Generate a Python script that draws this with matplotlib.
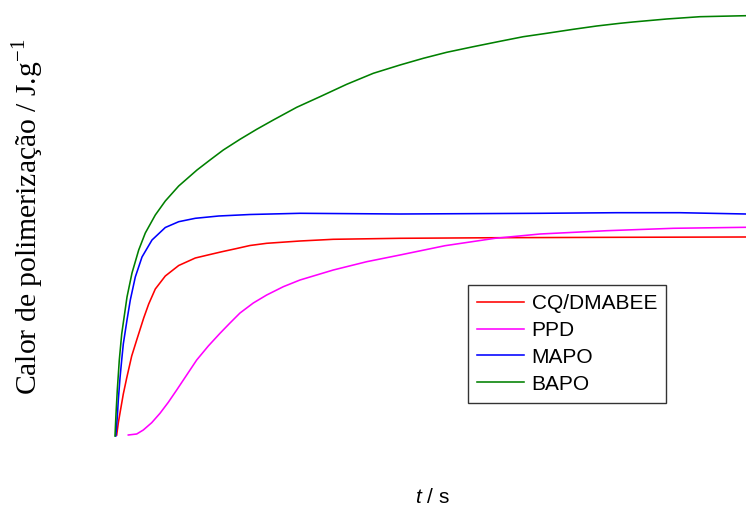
import matplotlib
matplotlib.use("Agg")
import matplotlib.pyplot as plt

plt.rcParams['mathtext.fontset'] = 'custom'
plt.rcParams['mathtext.rm'] = 'Liberation Serif'
plt.rcParams['mathtext.it'] = 'Liberation Sans:italic'

# time (s) and heat (J/g)
t_cq = [1.7, 3.3, 5, 8.3, 11.7, 16.7, 21.7, 28.7, 33.7, 40.3, 50.3, 63.7, 80.3,
        95, 107, 121.7, 135, 151.7, 185, 218.3, 285, 385, 505, 631]
h_cq = [1, 13, 23, 42, 58, 80, 96, 118, 132, 147, 160, 170.5, 178,
        181.5, 184.3, 187.5, 190.5, 192.7, 195, 196.7, 197.7, 198.3, 198.7, 199]

t_ppd = [13.3, 21.7, 28.3, 36.7, 45, 53.3, 61.7, 71.7, 81.7, 93.3, 105, 115, 125,
         138.3, 151.7, 168.3, 185, 218.3, 251.7, 285, 330, 380, 425, 491.7, 558.3, 631]
h_ppd = [1, 2, 6, 13.3, 22.7, 33.7, 46, 61, 76, 90, 102.7, 113, 123,
         133, 141, 149.3, 156, 166, 174.3, 181, 190.3, 197.7, 202, 205.3, 207.7, 208.7]

t_mapo = [0.8, 2.3, 3.3, 5, 6.7, 8.3, 12, 15.3, 20.3, 27, 37, 50.3,
          63.7, 80.3, 103.7, 135, 185, 285, 385, 425, 502, 565, 631]
h_mapo = [0, 19, 36, 58, 76, 92, 116, 136, 159, 179, 196, 208.5,
          214.3, 217.7, 220, 221.5, 222.7, 222, 222.5, 222.7, 223.3, 223.3, 222]

t_bapo = [0, 1, 2.3, 4.3, 6.7, 8.7, 12, 17, 23.7, 30.3, 40.3, 50.3, 63.7, 82,
          95, 108.3, 125, 141.7, 158.3, 181.7, 205, 231.7, 258.3, 285, 308.3, 331.7,
          358.3, 385, 408.3, 431.7, 458.3, 481.7, 505, 518, 551.7, 585, 631]
h_bapo = [0, 22, 46, 76, 102, 116, 139, 163, 186, 203, 221, 235, 250, 266,
          276, 286, 296.7, 306.7, 316, 328.7, 339.3, 351.7, 362.7, 371, 377.7, 383.7,
          389.3, 394.7, 399.3, 402.7, 406.7, 410, 412.7, 414, 417, 419.3, 420.3]

labels = ['CQ/DMABEE', 'PPD', 'MAPO', 'BAPO']
colors = ['#ff0000', '#ff00ff', '#0000ff', '#008000']

W, H = 746, 507
fig = plt.figure(figsize=(W / 100, H / 100), dpi=100)
ax = fig.add_axes([115 / W, (H - 436) / H, 1 - 115 / W, 436 / H])

series = [(t_cq, h_cq), (t_ppd, h_ppd), (t_mapo, h_mapo), (t_bapo, h_bapo)]
for (tx, hy), lab, c in zip(series, labels, colors):
    ax.plot(tx, hy, color=c, lw=1.15, label=lab, clip_on=False,
            solid_joinstyle='round')

ax.set_xlim(0, 631)
ax.set_ylim(0, 436)
for s in ax.spines.values():
    s.set_visible(False)
ax.set_xticks([])
ax.set_yticks([])

leg = ax.legend(loc='upper left', bbox_to_anchor=(468 / W, 1 - 285 / H),
                bbox_transform=fig.transFigure, borderaxespad=0,
                frameon=True, fancybox=False, edgecolor='black',
                prop={'family': 'Liberation Sans', 'size': 15},
                handlelength=2.25, handletextpad=0.35, labelspacing=0.37,
                borderpad=0.45)
leg.get_frame().set_linewidth(1.0)

fig.text(27 / W, 1 - 217 / H, 'Calor de polimerização / J.g$^{-1}$',
         rotation=90, ha='center', va='center',
         family='Liberation Serif', fontsize=21.3)
fig.text(432 / W, 1 - 503 / H, '$t$ / s', ha='center', va='baseline',
         family='Liberation Sans', fontsize=15)

fig.savefig('out.png', dpi=100)
